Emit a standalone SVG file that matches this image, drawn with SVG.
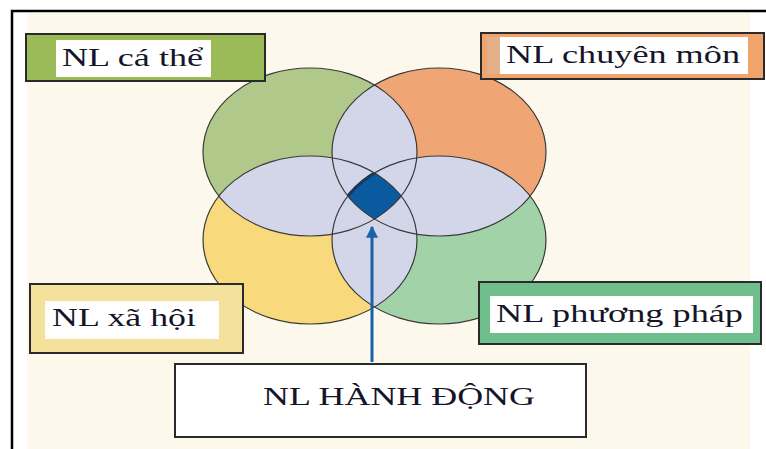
<svg xmlns="http://www.w3.org/2000/svg" width="766" height="449" viewBox="0 0 766 449">
<style>
.lbl{font-family:"Liberation Serif","Times New Roman",serif;font-size:26px;fill:#15152a}
.box{stroke:#2a2a2a;stroke-width:2}
.ol{fill:none;stroke:#3a3a3a;stroke-width:1.2}
</style>
<defs>
<clipPath id="cTL"><ellipse cx="310" cy="152" rx="107" ry="84"/></clipPath>
<clipPath id="cTR"><ellipse cx="439" cy="152" rx="107" ry="84"/></clipPath>
<clipPath id="cBL"><ellipse cx="310" cy="240" rx="107" ry="84"/></clipPath>
<clipPath id="cBR"><ellipse cx="439" cy="240" rx="107" ry="84"/></clipPath>
<marker id="ah" viewBox="0 0 10 10" refX="9" refY="5" markerWidth="4" markerHeight="4" orient="auto"><path d="M0,0 L10,5 L0,10 Z" fill="#1a62a8"/></marker>
</defs>
<rect x="0" y="0" width="766" height="449" fill="#ffffff"/>
<rect x="27" y="13" width="723" height="436" fill="#fdf8ec"/>
<path d="M12,449 V11 H766" fill="none" stroke="#000" stroke-width="2.5"/>

<g id="venn">
<ellipse cx="310" cy="152" rx="107" ry="84" fill="#b0c88a"/>
<ellipse cx="439" cy="152" rx="107" ry="84" fill="#f0a674"/>
<ellipse cx="310" cy="240" rx="107" ry="84" fill="#f8d97c"/>
<ellipse cx="439" cy="240" rx="107" ry="84" fill="#a2d3a8"/>
<g fill="#d3d6e8">
<ellipse cx="439" cy="152" rx="107" ry="84" clip-path="url(#cTL)"/>
<ellipse cx="310" cy="240" rx="107" ry="84" clip-path="url(#cTL)"/>
<ellipse cx="439" cy="240" rx="107" ry="84" clip-path="url(#cTL)"/>
<ellipse cx="310" cy="240" rx="107" ry="84" clip-path="url(#cTR)"/>
<ellipse cx="439" cy="240" rx="107" ry="84" clip-path="url(#cTR)"/>
<ellipse cx="439" cy="240" rx="107" ry="84" clip-path="url(#cBL)"/>
</g>
<g clip-path="url(#cTL)"><g clip-path="url(#cTR)"><g clip-path="url(#cBL)">
<ellipse cx="439" cy="240" rx="107" ry="84" fill="#0a5aa0" stroke="#06335f" stroke-width="3"/>
</g></g></g>
<ellipse class="ol" cx="310" cy="152" rx="107" ry="84"/>
<ellipse class="ol" cx="439" cy="152" rx="107" ry="84"/>
<ellipse class="ol" cx="310" cy="240" rx="107" ry="84"/>
<ellipse class="ol" cx="439" cy="240" rx="107" ry="84"/>
</g>

<g id="connectors">
<line x1="372" y1="362" x2="372" y2="227" stroke="#1a62a8" stroke-width="3" marker-end="url(#ah)"/>
</g>

<g id="nl-ca-the">
<rect class="box" x="26" y="34" width="239" height="47" fill="#9bbb59"/>
<rect x="56" y="40" width="155" height="37" fill="#ffffff"/>
<text class="lbl" x="62" y="66" textLength="141" lengthAdjust="spacingAndGlyphs">NL cá thể</text>
</g>

<g id="nl-chuyen-mon">
<rect class="box" x="481" y="33" width="283" height="46" fill="#f0a46c"/>
<rect x="487" y="37" width="13" height="37" fill="#e3b08a"/>
<rect x="500" y="37" width="248" height="37" fill="#ffffff"/>
<text class="lbl" x="506" y="63" textLength="234" lengthAdjust="spacingAndGlyphs">NL chuyên môn</text>
</g>

<g id="nl-xa-hoi">
<rect class="box" x="30" y="284" width="213" height="69" fill="#f4e19c"/>
<rect x="45" y="301" width="174" height="38" fill="#ffffff"/>
<text class="lbl" x="52" y="326" textLength="144" lengthAdjust="spacingAndGlyphs">NL xã hội</text>
</g>

<g id="nl-phuong-phap">
<rect class="box" x="479" y="282" width="282" height="62" fill="#6fbf8c"/>
<rect x="490" y="296" width="263" height="37" fill="#ffffff"/>
<text class="lbl" x="496" y="322" textLength="247" lengthAdjust="spacingAndGlyphs">NL phương pháp</text>
</g>

<g id="nl-hanh-dong">
<rect class="box" x="175" y="364" width="411" height="73" fill="#ffffff"/>
<text class="lbl" x="263" y="405" textLength="272" lengthAdjust="spacingAndGlyphs">NL HÀNH ĐỘNG</text>
</g>
</svg>
